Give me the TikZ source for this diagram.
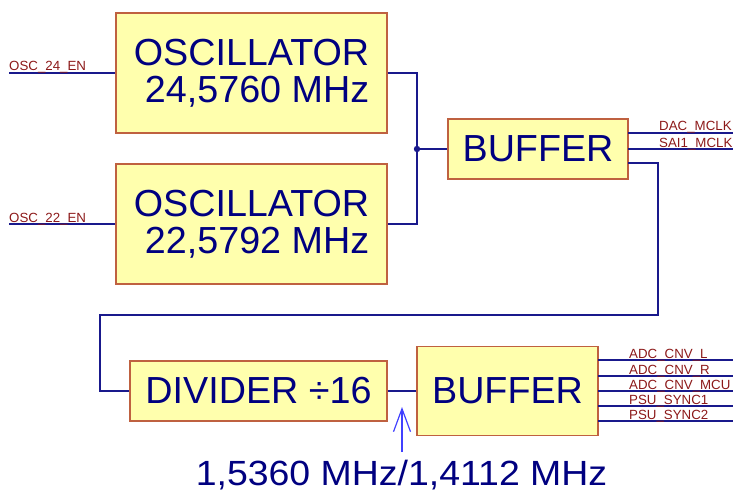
\documentclass[tikz,border=0pt]{standalone}
\usepackage{fontspec}
\setmainfont{Liberation Sans}
\usetikzlibrary{arrows.meta}
\definecolor{WireClr}{rgb}{0.1,0.1,0.55}
\definecolor{TextClr}{rgb}{0,0,0.5}
\definecolor{NetClr}{rgb}{0.55,0.1,0.1}
\definecolor{BlockClr}{rgb}{1,1,0.68}
\definecolor{EdgeClr}{rgb}{0.75,0.38,0.25}
\definecolor{ArrowClr}{rgb}{0.25,0.25,1}

\begin{document}
\begin{tikzpicture}[x=1pt,y=-1pt,
  block/.style={draw=EdgeClr,fill=BlockClr,line width=1.3pt,inner sep=0pt,
    text=TextClr,align=right,font=\fontsize{37.7}{37}\selectfont},
  wire/.style={WireClr,line width=1.6pt},
  net/.style={NetClr,anchor=base west,inner sep=0pt,font=\fontsize{13.3}{14}\selectfont}]
\useasboundingbox (0,0) rectangle (733,492);

% blocks
\node[block,minimum width=271pt,minimum height=120pt] (osc24) at (251.5,73) {OSCILLATOR\\24,5760 MHz};
\node[block,minimum width=271pt,minimum height=120pt] (osc22) at (251.5,224) {OSCILLATOR\\22,5792 MHz};
\node[block,minimum width=180pt,minimum height=60pt] (bufMclk) at (538,149) {BUFFER};
\node[block,minimum width=257pt,minimum height=60pt] (divider) at (258.5,391) {DIVIDER \char"00F7 16};
\node[block,minimum width=181pt,minimum height=89pt] (bufCnv) at (507.5,391) {BUFFER};

% enable inputs
\coordinate (en24) at (9,73);
\coordinate (en22) at (9,224);
\draw[wire] (en24) -- (osc24.west);
\draw[wire] (en22) -- (osc22.west);
\node[net] at (9,71) {OSC\_24\_EN};
\node[net] at (9,222) {OSC\_22\_EN};

% oscillator outputs to buffer
\coordinate (j) at (417,149);
\draw[wire] (osc24.east) -- (417,73) -- (417,224) -- (osc22.east);
\draw[wire] (j) -- (bufMclk.west);
\fill[WireClr] (j) circle (3.2);

% clock outputs
\coordinate (dac) at (733,133);
\coordinate (sai) at (733,149);
\draw[wire] (628,133) -- (dac);
\draw[wire] (628,149) -- (sai);
\node[net] at (659,131) {DAC\_MCLK};
\node[net] at (659,147) {SAI1\_MCLK};

% loop to divider
\draw[wire] (628,163) -- (658,163) -- (658,315) -- (100,315) -- (100,391) -- (divider.west);
\draw[wire] (divider.east) -- (bufCnv.west);

% sync outputs
\foreach \y/\lbl in {360/ADC\_CNV\_L,376/ADC\_CNV\_R,391/ADC\_CNV\_MCU,406/PSU\_SYNC1,421/PSU\_SYNC2}{
  \draw[wire] (598,\y) -- (733,\y);
  \node[net] at (629,\y-2) {\lbl};
}

% frequency note
\node[text=TextClr,anchor=base,inner sep=0pt,font=\fontsize{35}{36}\selectfont] (freq) at (401.5,485.5) {\scalebox{1.07}[1]{1,5360 MHz/1,4112 MHz}};
\coordinate (tail) at (402,452);
\coordinate (tap) at (402,407);
\draw[ArrowClr,line width=1.2pt,-{Straight Barb[length=23pt,width=17pt]}] (tail) -- (tap);

\end{tikzpicture}
\end{document}
